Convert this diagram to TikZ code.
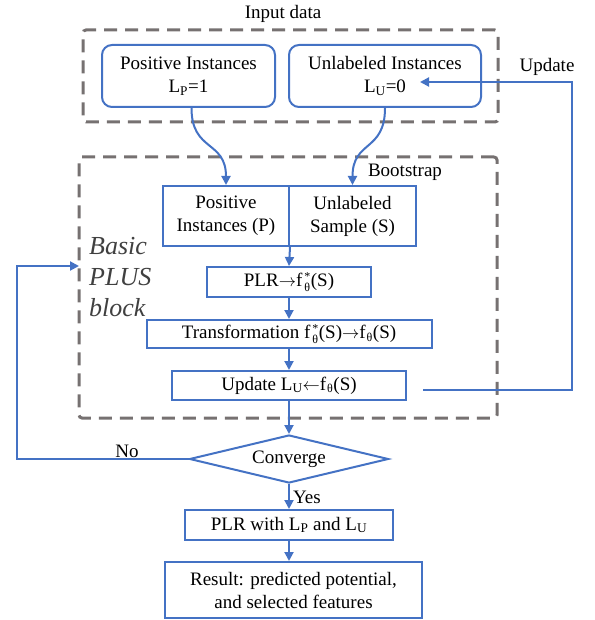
\documentclass[tikz,border=0pt]{standalone}
\usepackage{fontspec}
\setmainfont{Liberation Serif}
\usetikzlibrary{arrows.meta,shapes.geometric}
\definecolor{flowblue}{HTML}{4472C4}
\definecolor{framegray}{HTML}{767171}
\definecolor{notegray}{HTML}{404040}
\newcommand{\Lsub}[1]{L\textsubscript{#1}}
\newcommand{\smallmark}[1]{\mbox{\fontsize{12}{12}\selectfont #1}}
\newcommand{\fstar}{f\kern2pt$^{\smallmark{*}}_{\smallmark{θ}}$}
\newcommand{\fth}{f\kern1pt$_{\smallmark{θ}}$}
\newcommand{\toarrow}{$\rightarrow$}
\newcommand{\fromarrow}{$\leftarrow$}
\begin{document}
\begin{tikzpicture}[x=1pt,y=-1pt,
  txt/.style={font=\fontsize{19}{23}\selectfont, align=center, inner sep=0pt, text=black},
  bluebox/.style={txt, draw=flowblue, line width=2pt},
  roundbox/.style={bluebox, rounded corners=10pt},
  framebox/.style={draw=framegray, line width=3pt, dash pattern=on 13pt off 8pt,
                   rounded corners=3pt, inner sep=0pt},
  arr/.style={draw=flowblue, line width=2pt, -{Triangle[length=9pt,width=9pt]}},
  lbl/.style={txt}]
\useasboundingbox (0,0) rectangle (594,620);

% input data group
\node[lbl] (intitle) at (283,14) {Input data};
\node[framebox, minimum width=415, minimum height=92] (inframe) at (290.5,76) {};
\node[roundbox, minimum width=173, minimum height=62] (pos) at (188.5,76)
  {Positive Instances\\\Lsub{P}=1};
\node[roundbox, minimum width=192, minimum height=62] (unl) at (385,76)
  {Unlabeled Instances\\\Lsub{U}=0};

% bootstrap / basic PLUS block
\node[framebox, minimum width=418, minimum height=261] (plusframe) at (288,287.5) {};
\node[lbl] (boot) at (405,172) {Bootstrap};
\node[txt, font=\fontsize{26}{31}\selectfont\itshape, text=notegray, align=left, anchor=west]
  (plusnote) at (89,277) {Basic\\PLUS\\block};

\node[bluebox, minimum width=126, minimum height=60] (sl) at (226,216)
  {Positive\\Instances (P)};
\node[bluebox, minimum width=127, minimum height=60] (sr) at (352.5,216)
  {Unlabeled\\Sample (S)};
\node[bluebox, minimum width=164, minimum height=30] (plr) at (289,282)
  {PLR\toarrow\fstar(S)};
\node[bluebox, minimum width=285, minimum height=28] (trans) at (289,334)
  {Transformation \fstar(S)\toarrow\fth(S)};
\node[bluebox, minimum width=234, minimum height=29] (upd) at (289,385.5)
  {Update \Lsub{U}\fromarrow\fth(S)};

% decision and result
\node[txt, shape=diamond, draw=flowblue, line width=2pt, aspect=4.15,
      minimum width=199, minimum height=48] (conv) at (289,459) {Converge};
\node[bluebox, minimum width=208, minimum height=30] (plrw) at (289,525)
  {PLR with \Lsub{P} and \Lsub{U}};
\node[bluebox, minimum width=257, minimum height=56] (res) at (293.5,590)
  {Result: predicted potential,\\and selected features};

% connectors
\draw[arr] ([xshift=3pt]pos.south) .. controls ([xshift=3pt]pos.south |- 0,152) and (226,140) .. (sl.north);
\draw[arr] (unl.south) .. controls (385,152) and (352.5,140) .. (sr.north);
\draw[arr] (sl.south east) -- (plr.north);
\draw[arr] (plr) -- (trans);
\draw[arr] (trans) -- (upd);
\draw[arr] (upd) -- (conv);
\draw[arr] (conv) -- node[lbl, right, xshift=3pt, yshift=-1pt] (yes) {Yes} (plrw);
\draw[arr] (plrw.south) -- (plrw.south |- res.north);

% update feedback to the unlabeled instances
\coordinate (ustart) at (423,390);
\coordinate (uturn) at (572,82);
\coordinate (uend) at (420,82);
\draw[arr] (ustart) -| (uturn) -- (uend);
\node[lbl] (updlbl) at (547,67) {Update};

% not converged: back into the basic block
\coordinate (nturn) at (17,266);
\coordinate (nend) at (79,266);
\draw[arr] (conv.west) -| (nturn) -- (nend);
\node[lbl] (nolbl) at (127,451) {No};
\end{tikzpicture}
\end{document}
